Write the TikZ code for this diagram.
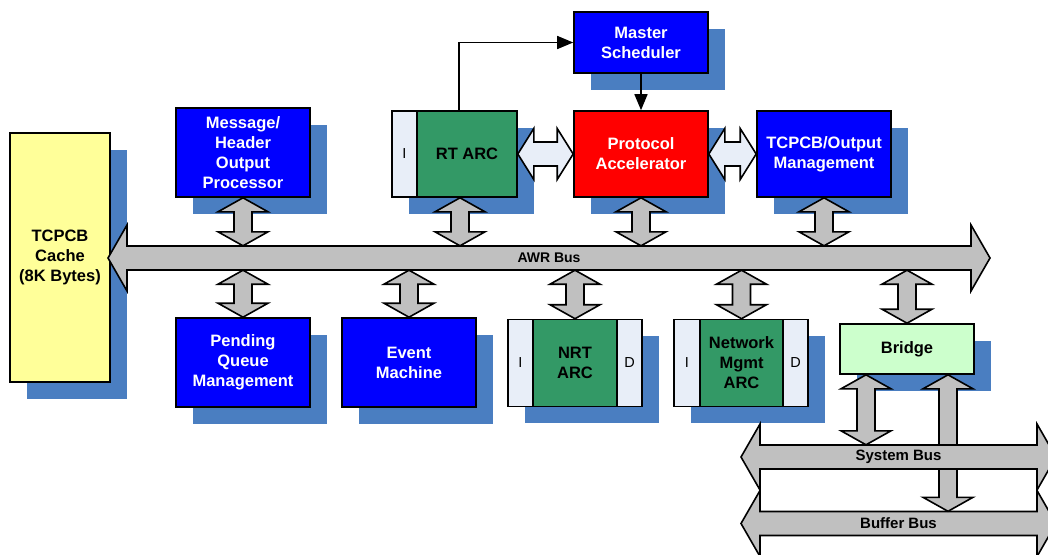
\documentclass[tikz,border=0pt]{standalone}
\usepackage{fontspec}
\setmainfont{Liberation Sans}
\usetikzlibrary{arrows.meta,shadows,calc}

\definecolor{boxblue}{HTML}{0000FF}
\definecolor{shadeblue}{HTML}{4A7EC1}
\definecolor{arcgreen}{HTML}{339966}
\definecolor{portfill}{HTML}{E8EEF8}
\definecolor{busgray}{HTML}{C0C0C0}
\definecolor{cacheyellow}{HTML}{FFFF99}
\definecolor{bridgegreen}{HTML}{CCFFCC}

\tikzset{
  blk/.style={draw=black, line width=1.6pt, inner sep=2pt, align=center,
    font=\fontsize{16.5}{20}\selectfont\bfseries,
    general shadow={fill=shadeblue, shadow xshift=16.5pt, shadow yshift=-16.5pt}},
  unit/.style={blk, fill=boxblue, text=white, minimum width=134pt, minimum height=89pt},
  arc/.style={blk, fill=arcgreen, text=black, minimum height=87pt},
  port/.style={blk, fill=portfill, text=black, font=\fontsize{14.5}{17}\selectfont,
    minimum width=25pt, minimum height=87pt},
  buslabel/.style={inner sep=0pt, minimum height=24pt, font=\fontsize{15}{18}\selectfont\bfseries},
  busarrow/.style={draw=black, line width=1.6pt, fill=busgray, line join=miter},
  ctrl/.style={line width=1.5pt, -{Triangle[length=16pt,width=13pt]}}
}

% fat bus: left base, right base, centre y
\newcommand{\busline}[3]{%
  \draw[busarrow] (#1,#3-12) -- (#2,#3-12) -- (#2,#3-33) -- (#2+19,#3) -- (#2,#3+33)
    -- (#2,#3+12) -- (#1,#3+12) -- (#1,#3+33) -- (#1-19,#3) -- (#1,#3-33) -- cycle;}
% fat vertical link: upper point, lower point
\newcommand{\vlink}[2]{%
  \draw[busarrow] let \p1=#1, \p2=#2 in
    (\x1,\y1) -- (\x1+25pt,\y1-14pt) -- (\x1+9pt,\y1-14pt) -- (\x1+9pt,\y2+14pt)
    -- (\x1+25pt,\y2+14pt) -- (\x1,\y2) -- (\x1-25pt,\y2+14pt) -- (\x1-9pt,\y2+14pt)
    -- (\x1-9pt,\y1-14pt) -- (\x1-25pt,\y1-14pt) -- cycle;}
% fat horizontal link: left point, right point
\newcommand{\hlink}[2]{%
  \draw[busarrow, fill=portfill] let \p1=#1, \p2=#2 in
    (\x1,\y1) -- (\x1+16pt,\y1+25.5pt) -- (\x1+16pt,\y1+12pt) -- (\x2-16pt,\y1+12pt)
    -- (\x2-16pt,\y1+25.5pt) -- (\x2,\y1) -- (\x2-16pt,\y1-25.5pt) -- (\x2-16pt,\y1-12pt)
    -- (\x1+16pt,\y1-12pt) -- (\x1+16pt,\y1-25.5pt) -- cycle;}

\begin{document}
\begin{tikzpicture}[x=1pt,y=-1pt]
\useasboundingbox (0,0) rectangle (1048,554);
\clip (0,0) rectangle (1048,554);

% blocks
\node[blk, fill=cacheyellow, minimum width=100pt, minimum height=249pt] (cache) at (60,257.5) {TCPCB\\Cache\\(8K Bytes)};
\node[unit] (msgout) at (243,152.5) {Message/\\Header\\Output\\Processor};
\node[unit] (pending) at (243,362.5) {Pending\\Queue\\Management};
\node[unit, minimum height=61pt] (sched) at (641,42.5) {Master\\Scheduler};
\node[port, minimum height=86pt] (rti) at (404.5,154) {I};
\node[arc, minimum width=100pt, minimum height=86pt] (rtarc) at (467,154) {RT ARC};
\node[unit, fill=red, minimum height=86pt] (proto) at (641,154) {Protocol\\Accelerator};
\node[unit, minimum height=86pt] (tcbout) at (824,154) {TCPCB/Output\\Management};
\node[unit] (event) at (409,362.5) {Event\\Machine};
\node[port] (nrti) at (520.5,363) {I};
\node[arc, minimum width=84pt] (nrtarc) at (575,363) {NRT\\ARC};
\node[port] (nrtd) at (629.5,363) {D};
\node[port, minimum width=26pt] (nmi) at (687,363) {I};
\node[arc, minimum width=83pt] (nmarc) at (741.5,363) {Network\\Mgmt\\ARC};
\node[port] (nmd) at (795.5,363) {D};
\node[blk, fill=bridgegreen, minimum width=134pt, minimum height=50pt] (bridge) at (907,349) {Bridge};

% AWR bus
\busline{127}{971}{258}
\node[buslabel, minimum width=844pt, font=\fontsize{14}{17}\selectfont\bfseries] (awr) at (549,258) {AWR Bus};

\vlink{(msgout.south)}{(msgout.south |- awr.north)}
\vlink{([xshift=-7pt]rtarc.south)}{([xshift=-7pt]rtarc.south |- awr.north)}
\vlink{(proto.south)}{(proto.south |- awr.north)}
\vlink{(tcbout.south)}{(tcbout.south |- awr.north)}
\vlink{(pending.north |- awr.south)}{(pending.north)}
\vlink{(event.north |- awr.south)}{(event.north)}
\vlink{(nrtarc.north |- awr.south)}{(nrtarc.north)}
\vlink{(nmarc.north |- awr.south)}{(nmarc.north)}
\vlink{(bridge.north |- awr.south)}{(bridge.north)}

\hlink{(rtarc.east)}{(proto.west)}
\hlink{(proto.east)}{(tcbout.west)}

\draw[ctrl] ([xshift=-8pt]rtarc.north) |- (sched.west);
\draw[ctrl] (sched.south) -- (proto.north);

% system and buffer buses
\busline{760}{1037}{523.5}
\node[buslabel, minimum width=277pt] (bufbus) at (898.5,523.5) {Buffer Bus};
\vlink{([xshift=41pt]bridge.south)}{([xshift=41pt]bridge.south |- bufbus.north)}
\busline{760}{1037}{457}
\node[buslabel, minimum width=277pt] (sysbus) at (898.5,457) {System Bus};
\vlink{([xshift=-41pt]bridge.south)}{([xshift=-41pt]bridge.south |- sysbus.north)}
\end{tikzpicture}
\end{document}
